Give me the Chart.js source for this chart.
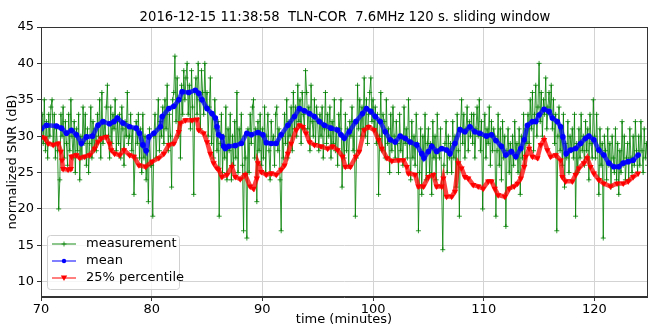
<!DOCTYPE html>
<html>
<head>
<meta charset="utf-8">
<script src="https://cdn.jsdelivr.net/npm/chart.js@4/dist/chart.umd.min.js"></script>
<style>
  html, body { margin: 0; padding: 0; background: #fff; }
  #wrap { width: 652px; height: 324px; position: relative; }
</style>
</head>
<body>
<div id="wrap"><canvas id="snrChart"></canvas></div>
<script>
const titleText = "2016-12-15 11:38:58  TLN-COR  7.6MHz 120 s. sliding window";

// measurement: one value every 0.1 min starting at 70 min (one row per minute)
const measStart = 70;
const measStep = 0.1;
const measurement = [
  31, 33, 29, 35, 28, 32, 27, 33, 30, 34,
  35, 29, 33, 27, 31, 28, 20, 24, 33, 30,
  34, 27, 32, 29, 26, 33, 28, 35, 30, 27,
  32, 25, 31, 28, 33, 24, 30, 27, 34, 29,
  33, 26, 31, 25, 29, 34, 27, 32, 28, 31,
  28, 33, 30, 35, 27, 36, 29, 32, 30, 34,
  37, 30, 27, 34, 29, 33, 31, 35, 28, 32,
  29, 33, 27, 34, 31, 26, 32, 30, 36, 29,
  30, 33, 28, 31, 22, 27, 32, 29, 33, 27,
  31, 25, 33, 27, 30, 24, 28, 21, 31, 26,
  26, 19, 30, 33, 27, 31, 35, 28, 32, 30,
  34, 29, 35, 31, 37, 28, 33, 30, 23, 35,
  36, 41, 32, 38, 30, 35, 27, 37, 33, 39,
  35, 38, 40, 33, 37, 31, 39, 34, 22, 36,
  38, 33, 40, 35, 31, 39, 36, 33, 40, 34,
  36, 30, 34, 38, 29, 33, 27, 35, 31, 28,
  32, 19, 29, 33, 25, 30, 27, 34, 24, 31,
  28, 33, 24, 30, 26, 32, 27, 36, 25, 31,
  29, 33, 26, 17, 30, 27, 16, 31, 25, 33,
  29, 34, 35, 27, 31, 21, 32, 28, 33, 26,
  31, 27, 34, 25, 30, 33, 28, 24, 32, 29,
  30, 26, 33, 34, 28, 31, 24, 17, 30, 27,
  33, 29, 35, 27, 32, 30, 34, 28, 36, 31,
  34, 30, 37, 32, 35, 29, 36, 33, 31, 39,
  36, 31, 34, 28, 37, 32, 30, 35, 29, 34,
  32, 28, 33, 30, 34, 27, 31, 36, 29, 33,
  30, 34, 27, 32, 29, 35, 28, 31, 26, 33,
  31, 35, 23, 30, 27, 33, 28, 31, 26, 32,
  30, 34, 28, 32, 19, 27, 37, 31, 35, 30,
  34, 31, 38, 30, 35, 29, 33, 36, 38, 32,
  35, 31, 34, 29, 33, 22, 30, 36, 28, 33,
  32, 27, 35, 29, 31, 25, 33, 28, 34, 30,
  27, 32, 29, 25, 33, 28, 30, 26, 34, 29,
  31, 27, 35, 29, 24, 32, 27, 30, 26, 33,
  29, 17, 25, 31, 22, 30, 27, 33, 24, 29,
  31, 25, 29, 22, 32, 27, 30, 24, 33, 28,
  27, 31, 23, 14.4, 26, 29, 32, 25, 30, 27,
  29, 25, 32, 27, 30, 23, 33, 28, 19, 31,
  35, 29, 33, 27, 31, 34, 28, 32, 30, 33,
  29, 33, 27, 31, 34, 30, 35, 28, 32, 20,
  30, 33, 27, 31, 29, 34, 26, 32, 28, 31,
  30, 19, 28, 33, 26, 31, 24, 32, 27, 30,
  17.6, 28, 31, 25, 29, 23, 30, 26, 32, 27,
  29, 25, 31, 22, 30, 27, 33, 26, 31, 29,
  33, 29, 35, 31, 36, 28, 33, 37, 30, 34,
  40, 32, 36, 30, 35, 33, 38, 31, 34, 36,
  33, 37, 31, 35, 29, 33, 17, 30, 34, 28,
  31, 26, 33, 23, 29, 27, 32, 25, 30, 28,
  31, 27, 33, 19, 29, 25, 31, 27, 33, 28,
  30, 26, 32, 28, 31, 24, 33, 29, 27, 35,
  30, 27, 33, 28, 22, 31, 26, 29, 16, 30,
  28, 24, 31, 26, 29, 23, 30, 27, 25, 31,
  24, 29, 22, 28, 25, 32, 26, 30, 24, 27,
  29, 24, 31, 27, 25, 30, 26, 32, 28, 25,
  30, 26, 32, 28, 25, 31, 27, 29, 26, 32
];

const meanTime = [
  70.0, 70.5, 71.4, 71.85, 72.3, 72.75, 73.2, 73.65, 74.1, 74.65, 75.15, 75.6, 76.2, 76.6, 76.9,
  77.4, 78.0, 78.6, 78.9, 79.2, 79.5, 79.75, 80.2, 80.8, 80.95, 81.55, 82.0, 82.45, 82.75, 83.35,
  83.95, 84.25, 84.55, 85.0, 85.45, 85.75, 85.9, 86.05, 86.35, 86.5, 86.65, 86.95, 87.55, 88.1, 88.6,
  89.0, 89.6, 90.05, 90.35, 90.8, 91.25, 91.7, 92.3, 92.9, 93.35, 93.8, 94.25, 94.7, 95.15, 95.6,
  96.2, 96.8, 97.1, 97.4, 97.85, 98.45, 99.05, 99.4, 99.8, 100.2, 100.65, 101.1, 101.55, 102.0, 102.45,
  102.9, 103.35, 103.95, 104.4, 104.6, 105.0, 105.3, 105.75, 106.2, 106.65, 106.95, 107.4, 107.85, 108.3, 108.75,
  109.2, 109.65, 110.25, 110.7, 111.1, 111.6, 112.0, 112.5, 112.9, 113.35, 113.65, 113.95, 114.4, 114.7, 115.0,
  115.45, 115.9, 116.2, 116.65, 116.95, 117.15, 117.45, 117.85, 118.3, 118.75, 119.2, 119.5, 119.95, 120.4, 120.85,
  121.3, 121.75, 122.2, 122.6, 123.05, 123.5, 123.95
];
const meanSnr = [
  31.0, 31.5, 31.4, 31.1, 30.4, 30.8, 30.2, 29.0, 29.9, 30.0, 31.5, 32.0, 31.7, 32.0, 32.5,
  31.8, 31.3, 31.1, 30.4, 28.8, 28.0, 29.9, 30.4, 31.3, 32.7, 33.8, 34.1, 35.0, 36.1, 36.0,
  36.3, 35.9, 35.0, 33.8, 33.1, 32.5, 31.3, 30.2, 29.9, 28.6, 28.3, 28.6, 28.7, 29.0, 30.4,
  30.2, 30.5, 30.2, 29.1, 29.0, 29.0, 30.2, 31.5, 32.7, 33.8, 33.5, 33.1, 32.7, 32.0, 31.5,
  31.1, 30.85, 30.2, 29.7, 30.6, 32.0, 33.1, 33.8, 33.4, 32.7, 32.0, 30.6, 29.5, 29.2, 30.0,
  29.7, 29.2, 28.8, 27.6, 27.0, 27.9, 28.6, 27.9, 28.3, 28.1, 27.6, 29.0, 30.9, 30.6, 31.3,
  30.6, 30.4, 30.0, 30.2, 29.4, 28.6, 27.4, 27.9, 27.2, 28.3, 29.5, 31.5, 32.0, 32.0, 32.9,
  33.7, 33.4, 32.5, 32.0, 31.3, 29.9, 27.6, 28.1, 28.3, 29.0, 29.7, 30.0, 29.5, 28.1, 27.4,
  26.3, 25.8, 25.8, 26.3, 26.5, 26.7, 27.4
];

const pctTime = [
  70.05, 70.35, 70.65, 71.1, 71.55, 71.8, 71.9, 72.0, 72.45, 72.7, 72.75, 73.2, 73.5, 73.95, 74.4,
  74.85, 75.15, 75.45, 75.9, 76.2, 76.35, 76.65, 77.1, 77.5, 78.0, 78.4, 78.85, 79.45, 80.05, 80.65,
  81.1, 81.55, 82.0, 82.45, 82.6, 83.05, 83.65, 84.1, 84.25, 84.7, 85.0, 85.3, 85.6, 85.9, 86.05,
  86.35, 86.8, 87.25, 87.55, 88.0, 88.45, 88.9, 89.2, 89.5, 89.6, 89.9, 90.35, 90.8, 91.25, 91.7,
  92.0, 92.3, 92.6, 93.05, 93.35, 93.65, 93.95, 94.25, 94.7, 95.3, 95.9, 96.35, 96.8, 97.25, 97.5,
  97.95, 98.45, 98.75, 99.2, 99.6, 100.1, 100.5, 100.8, 101.25, 101.7, 102.3, 102.75, 103.05, 103.2, 103.8,
  104.1, 104.55, 105.0, 105.45, 105.75, 106.2, 106.35, 106.65, 107.1, 107.4, 107.7, 108.0, 108.3, 108.6, 109.05,
  109.5, 109.95, 110.4, 110.7, 111.0, 111.3, 111.9, 112.3, 112.75, 113.05, 113.35, 113.65, 113.8, 114.1, 114.4,
  114.85, 115.15, 115.45, 115.75, 116.05, 116.5, 116.95, 117.1, 117.4, 118.0, 118.3, 118.6, 119.05, 119.35, 119.65,
  119.95, 120.4, 120.85, 121.45, 122.05, 122.6, 123.05, 123.5, 123.95
];
const pctSnr = [
  29.9, 29.7, 29.0, 28.8, 29.0, 27.9, 26.7, 25.5, 25.4, 25.5, 27.2, 27.4, 27.0, 27.2, 27.4,
  28.3, 29.2, 29.7, 29.9, 29.0, 28.1, 27.6, 27.4, 28.1, 27.4, 27.2, 26.0, 25.8, 26.5, 27.0,
  27.6, 28.8, 29.0, 30.6, 31.8, 32.2, 32.2, 32.3, 30.85, 30.4, 29.2, 27.6, 26.3, 25.6, 25.4,
  24.4, 24.7, 25.8, 24.4, 24.1, 24.7, 23.1, 22.8, 24.2, 26.3, 25.1, 24.7, 24.9, 24.7, 25.4,
  26.0, 27.6, 29.0, 30.85, 31.5, 31.3, 30.4, 29.2, 28.8, 28.6, 28.3, 28.6, 28.1, 27.2, 25.8,
  25.8, 27.2, 27.9, 30.85, 31.3, 30.85, 29.5, 28.3, 27.0, 26.6, 26.7, 26.7, 25.8, 24.9, 24.7,
  23.1, 23.1, 24.4, 24.7, 23.1, 23.1, 24.2, 21.7, 21.7, 22.4, 26.3, 25.6, 24.4, 24.2, 23.3,
  23.1, 22.8, 23.8, 23.8, 22.8, 21.9, 21.7, 22.8, 23.1, 23.5, 24.2, 25.8, 27.2, 28.3, 27.2,
  27.0, 28.8, 29.5, 28.1, 27.2, 27.4, 26.7, 24.4, 23.8, 23.8, 24.7, 25.6, 26.3, 27.0, 25.8,
  24.9, 24.0, 23.5, 23.1, 23.5, 23.5, 23.8, 24.4, 24.9
];

const xTicks = [70, 80, 90, 100, 110, 120];
const yTicks = [10, 15, 20, 25, 30, 35, 40, 45];

const seriesNames = ["measurement", "mean", "25% percentile"];

const font = { family: "'DejaVu Sans', sans-serif", size: 13 };

const pairs = (xs, ys) => ys.map((v, i) => ({ x: xs[i], y: v }));
const measPoints = measurement.map((v, i) => ({ x: measStart + i * measStep, y: v }));

// title, axes frame and matplotlib-like legend box
const framePlugin = {
  id: "frame",
  afterDraw(chart) {
    const { ctx, chartArea: a } = chart;
    ctx.save();
    ctx.fillStyle = "#000";
    ctx.font = "13.2px 'DejaVu Sans'";
    ctx.textAlign = "center";
    ctx.textBaseline = "middle";
    ctx.fillText(titleText, (a.left + a.right) / 2 + 1, 17.5);

    ctx.strokeStyle = "#333";
    ctx.lineWidth = 1;
    ctx.strokeRect(a.left + 0.5, a.top + 0.5, a.right - a.left, a.bottom - a.top - 1);

    // legend
    const bx = 47.5, by = 235.5, bw = 132, bh = 54, r = 3;
    ctx.beginPath();
    ctx.moveTo(bx + r, by);
    ctx.arcTo(bx + bw, by, bx + bw, by + bh, r);
    ctx.arcTo(bx + bw, by + bh, bx, by + bh, r);
    ctx.arcTo(bx, by + bh, bx, by, r);
    ctx.arcTo(bx, by, bx + bw, by, r);
    ctx.closePath();
    ctx.fillStyle = "rgba(255,255,255,0.8)";
    ctx.fill();
    ctx.strokeStyle = "#d0d0d0";
    ctx.stroke();

    const rows = [244, 261, 278];
    chart.data.datasets.forEach((ds, i) => {
      const y = rows[i];
      ctx.strokeStyle = ds.legendColor;
      ctx.lineWidth = ds.legendLine;
      ctx.beginPath();
      ctx.moveTo(52, y);
      ctx.lineTo(76, y);
      ctx.stroke();
      const cx = 64;
      if (i === 0) {
        ctx.strokeStyle = ds.pointBorderColor;
        ctx.lineWidth = 1;
        ctx.beginPath();
        ctx.moveTo(cx - 2.5, y); ctx.lineTo(cx + 2.5, y);
        ctx.moveTo(cx, y - 2.5); ctx.lineTo(cx, y + 2.5);
        ctx.stroke();
      } else if (i === 1) {
        ctx.fillStyle = ds.pointBackgroundColor;
        ctx.beginPath();
        ctx.arc(cx, y, 2.2, 0, Math.PI * 2);
        ctx.fill();
      } else {
        ctx.fillStyle = ds.pointBackgroundColor;
        ctx.beginPath();
        ctx.moveTo(cx - 3.2, y - 2.5);
        ctx.lineTo(cx + 3.2, y - 2.5);
        ctx.lineTo(cx, y + 3);
        ctx.closePath();
        ctx.fill();
      }
      ctx.fillStyle = "#000";
      ctx.font = "13px 'DejaVu Sans'";
      ctx.textAlign = "left";
      ctx.textBaseline = "middle";
      ctx.fillText(ds.label, 86, y);
    });
    ctx.restore();
  }
};

new Chart(document.getElementById("snrChart"), {
  type: "line",
  data: {
    datasets: [
      {
        label: seriesNames[0],
        data: measPoints,
        order: 3,
        borderColor: "rgba(0,128,0,0.8)",
        legendColor: "rgba(0,128,0,0.75)",
        borderWidth: 1,
        legendLine: 1.2,
        pointStyle: "cross",
        pointRadius: 2.5,
        pointBorderWidth: 1,
        pointBorderColor: "rgba(0,128,0,0.8)",
        pointBackgroundColor: "#008000",
        tension: 0
      },
      {
        label: seriesNames[1],
        data: pairs(meanTime, meanSnr),
        order: 2,
        borderColor: "rgba(0,0,255,0.75)",
        legendColor: "rgba(0,0,255,0.5)",
        borderWidth: 4.5,
        legendLine: 2,
        pointStyle: "circle",
        pointRadius: 2.8,
        pointBorderWidth: 0,
        pointBorderColor: "#0000ff",
        pointBackgroundColor: "#0000ff",
        tension: 0
      },
      {
        label: seriesNames[2],
        data: pairs(pctTime, pctSnr),
        order: 1,
        borderColor: "rgba(255,0,0,0.75)",
        legendColor: "rgba(255,0,0,0.5)",
        borderWidth: 4.5,
        legendLine: 2,
        pointStyle: "triangle",
        pointRotation: 180,
        pointRadius: 3.6,
        pointBorderWidth: 0,
        pointBorderColor: "#ff0000",
        pointBackgroundColor: "#ff0000",
        tension: 0
      }
    ]
  },
  options: {
    responsive: true,
    maintainAspectRatio: false,
    animation: false,
    layout: { padding: { top: 27, right: 0, bottom: 0, left: 0 } },
    plugins: {
      legend: { display: false },
      tooltip: { enabled: false }
    },
    scales: {
      x: {
        type: "linear",
        min: 70,
        max: 124.75,
        afterBuildTicks: (s) => { s.ticks = xTicks.map((v) => ({ value: v })); },
        afterFit: (s) => { s.height = 27; },
        grid: { color: "#d3d3d3", tickColor: "#333", tickLength: 4 },
        border: { color: "#333" },
        ticks: { font, color: "#000", padding: 1, maxRotation: 0 },
        title: { display: true, text: "time (minutes)", font, color: "#000", padding: { top: 0, bottom: -3 } }
      },
      y: {
        min: 7.9,
        max: 45,
        afterBuildTicks: (s) => { s.ticks = yTicks.map((v) => ({ value: v })); },
        afterFit: (s) => { s.width = 41; },
        grid: { color: "#d3d3d3", tickColor: "#333", tickLength: 4 },
        border: { color: "#333" },
        ticks: { font, color: "#000", padding: 3 },
        title: { display: true, text: "normalized SNR (dB)", font, color: "#000", padding: { top: 5, bottom: 0 } }
      }
    }
  },
  plugins: [framePlugin]
});
</script>
</body>
</html>
